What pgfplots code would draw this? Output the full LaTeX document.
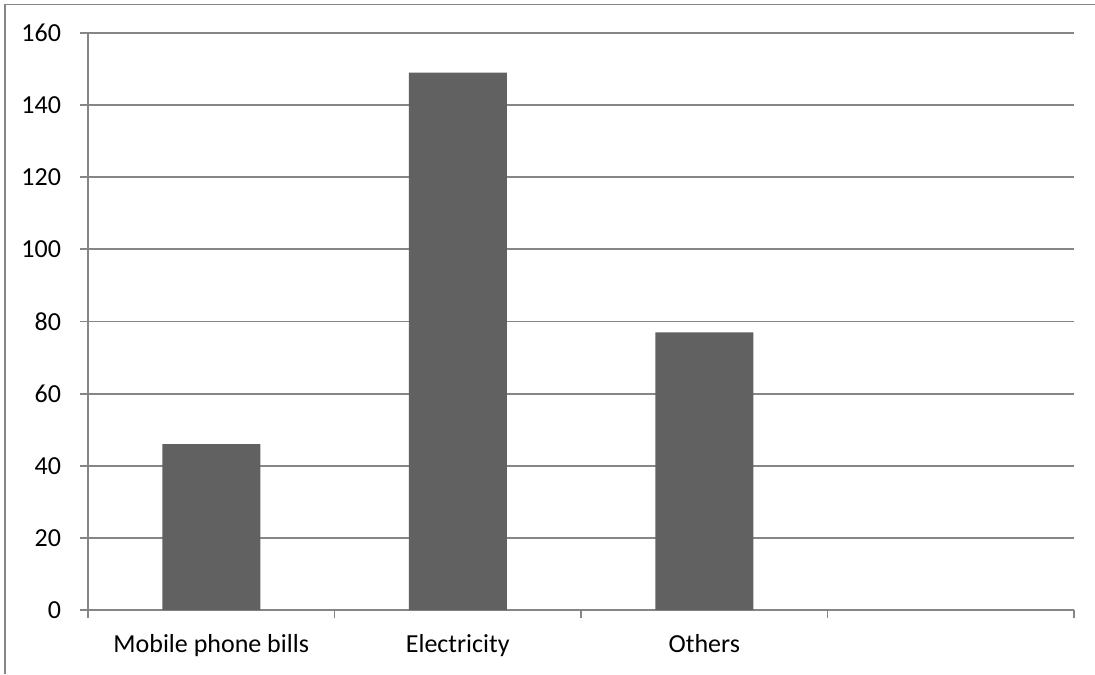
\documentclass[border=0pt]{standalone}
\usepackage{fontspec}
\setmainfont{Carlito}
\usepackage{pgfplots}
\pgfplotsset{compat=1.18}
\definecolor{barc}{RGB}{97,97,97}
\definecolor{gridc}{RGB}{134,134,134}
\begin{document}
\begin{tikzpicture}
\useasboundingbox (-44pt,-32pt) rectangle (503.5pt,305pt);
\draw[gridc, line width=0.8pt] (-41.5pt,-32pt) -- (-41.5pt,302.8pt) -- (503.5pt,302.8pt);
\begin{axis}[
  scale only axis,
  width=493pt, height=288.5pt,
  at={(0pt,0pt)}, anchor=south west,
  xmin=-0.5, xmax=3.5,
  ymin=0, ymax=160,
  ytick={0,20,...,160},
  xtick={-0.5,0.5,1.5,2.5,3.5},
  xticklabels={},
  extra x ticks={0,1,2},
  extra x tick labels={Mobile phone bills,Electricity,Others},
  extra x tick style={major tick length=0pt, xticklabel style={yshift=-8.5pt}},
  axis x line*=bottom,
  axis y line*=left,
  axis line style={gridc, line width=0.9pt, -},
  tick style={gridc, line width=0.9pt},
  tick align=outside,
  major tick length=4pt,
  ymajorgrids,
  grid style={gridc, line width=0.9pt},
  every tick label/.append style={font=\fontsize{13}{15}\selectfont, text=black},
  /pgf/number format/assume math mode=true,
  yticklabel style={xshift=-6pt},
  clip=false,
]
\addplot[ybar, bar width=49pt, fill=barc, draw=none] coordinates {(0,46) (1,149) (2,77)};
\end{axis}
\end{tikzpicture}
\end{document}
